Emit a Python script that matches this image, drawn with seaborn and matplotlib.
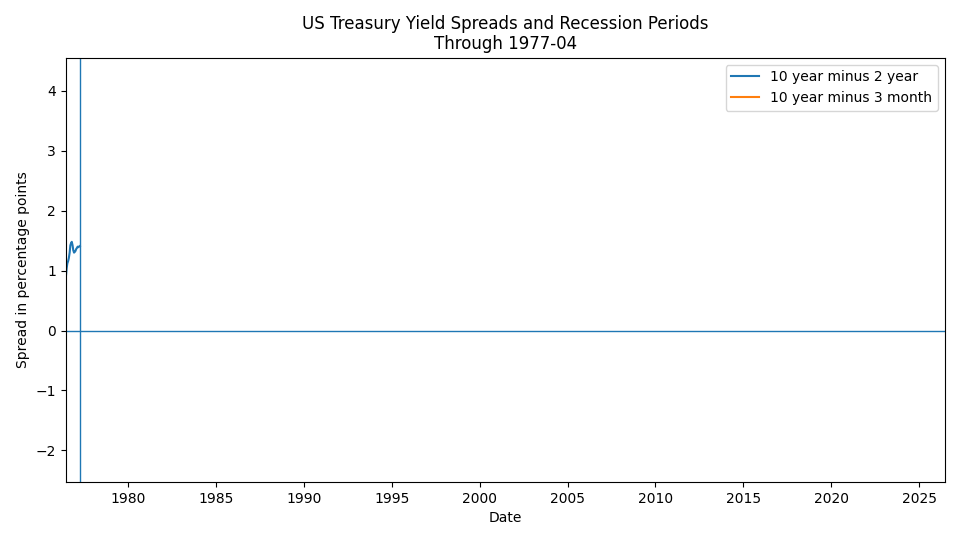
import pandas as pd
import matplotlib
matplotlib.use('Agg')
import matplotlib.pyplot as plt
import seaborn as sns

# 10 year minus 2 year spread, readings from the chart (percentage points)
dates = ['1976-06-01', '1976-06-15', '1976-07-01', '1976-07-15', '1976-08-01',
         '1976-08-15', '1976-09-01', '1976-09-15', '1976-10-01', '1976-10-15',
         '1976-11-01', '1976-11-15', '1976-12-01', '1976-12-15', '1977-01-01',
         '1977-01-15', '1977-02-01', '1977-02-15', '1977-03-01', '1977-03-15',
         '1977-04-01']
spread_10y2y = [0.80, 0.90, 1.04, 1.12, 1.16, 1.21, 1.30, 1.42, 1.46, 1.48,
                1.42, 1.34, 1.30, 1.31, 1.33, 1.36, 1.38, 1.40, 1.39, 1.40, 1.41]
# 10 year minus 3 month series has no values yet at this date
dates_10y3m = []
spread_10y3m = []

through = '1977-04-01'
x_start, x_end = '1976-06-12', '2026-06-15'

df = pd.DataFrame({'date': pd.to_datetime(dates), 'spread': spread_10y2y})

fig, ax = plt.subplots(figsize=(9.6, 5.4), dpi=100)
sns.lineplot(data=df, x='date', y='spread', ax=ax, color='C0',
             linewidth=1.5, label='10 year minus 2 year')
ax.plot(pd.to_datetime(dates_10y3m), spread_10y3m, color='C1',
        linewidth=1.5, label='10 year minus 3 month')

ax.axhline(0, color='C0', linewidth=1)
ax.axvline(pd.Timestamp(through), color='C0', linewidth=1)

ax.set_xlim(pd.Timestamp(x_start), pd.Timestamp(x_end))
ax.set_ylim(-2.53, 4.55)
ax.set_title('US Treasury Yield Spreads and Recession Periods\nThrough 1977-04')
ax.set_xlabel('Date')
ax.set_ylabel('Spread in percentage points')
ax.legend(loc='upper right')

plt.subplots_adjust(left=0.0685, right=0.984, top=0.893, bottom=0.107)
plt.savefig('out.png', dpi=100)
